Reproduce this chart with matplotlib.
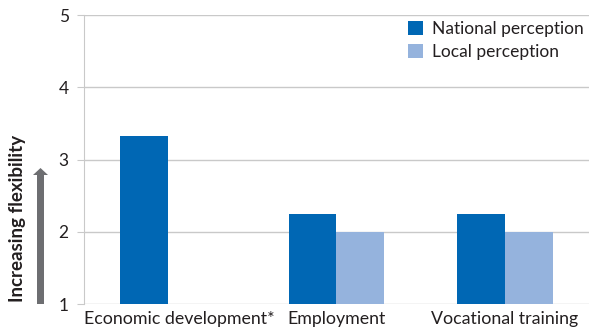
import matplotlib
matplotlib.use("Agg")
import matplotlib.pyplot as plt
from matplotlib.patches import Polygon
from matplotlib.transforms import IdentityTransform, ScaledTranslation
import numpy as np

CATEGORIES = ["Economic development*", "Employment", "Vocational training"]
NATIONAL = [3.33, 2.25, 2.25]
LOCAL = [None, 2.0, 2.0]          # no local rating for economic development
YTICKS = [1, 2, 3, 4, 5]

NAT_C = "#0067b4"; LOC_C = "#95b3dd"; GRID = "#c9c9c9"; TXT = "#231f20"; ARROW = "#6d6e71"

plt.rcParams["font.family"] = ["Lato", "DejaVu Sans"]

fig = plt.figure(figsize=(5.89, 3.36), dpi=100)
ax = fig.add_axes([0.1426, 0.0952, 0.8574, 0.8601])

x = np.arange(len(CATEGORIES))
w = 0.285
ax.bar(x - w / 2, NATIONAL, w, color=NAT_C, label="National perception", zorder=3)
loc_x = [xi + w / 2 for xi, v in zip(x, LOCAL) if v is not None]
loc_v = [v for v in LOCAL if v is not None]
ax.bar(loc_x, loc_v, w, color=LOC_C, label="Local perception", zorder=3)

ax.set_xlim(-0.5, 2.5)
ax.set_ylim(1, 5)
ax.set_yticks(YTICKS)
ax.set_yticklabels([str(t) for t in YTICKS], color=TXT, fontsize=12.5)
ax.set_xticks(x)
ax.set_xticklabels(CATEGORIES, color=TXT, fontsize=12.8)
ax.tick_params(axis="x", length=0, pad=5)
ax.tick_params(axis="y", length=5, color=GRID, pad=6)

# nudge the long first label right so it clears the axis label column
lbl0 = ax.get_xticklabels()[0]
lbl0.set_transform(lbl0.get_transform() + ScaledTranslation(0.11, 0, fig.dpi_scale_trans))

ax.yaxis.grid(True, color=GRID, linewidth=1, zorder=0)
ax.set_axisbelow(True)
for s in ("top", "right", "bottom"):
    ax.spines[s].set_visible(False)
ax.spines["left"].set_color(GRID)

leg = ax.legend(loc="upper right", frameon=False, fontsize=12.5, handlelength=0.85,
                handleheight=0.85, handletextpad=0.55, labelspacing=0.4,
                borderaxespad=0, borderpad=0, bbox_to_anchor=(0.99, 0.98))
for t in leg.get_texts():
    t.set_color(TXT)

fig.text(0.030, 0.101, "Increasing flexibility", rotation=90, ha="center", va="bottom",
         fontsize=13.5, fontweight="bold", color=TXT)

# upward arrow beside the axis label, in pixel units (origin bottom-left)
ax_l, shaft_w, head_w = 40.5, 7, 15
base, neck, tip = 32, 161, 168
pts = [(ax_l - shaft_w / 2, base), (ax_l + shaft_w / 2, base),
       (ax_l + shaft_w / 2, neck), (ax_l + head_w / 2, neck), (ax_l, tip),
       (ax_l - head_w / 2, neck), (ax_l - shaft_w / 2, neck)]
fig.patches.append(Polygon(pts, closed=True, facecolor=ARROW, edgecolor="none",
                           transform=IdentityTransform(), figure=fig))

fig.savefig("out.png", dpi=100, facecolor="white")
